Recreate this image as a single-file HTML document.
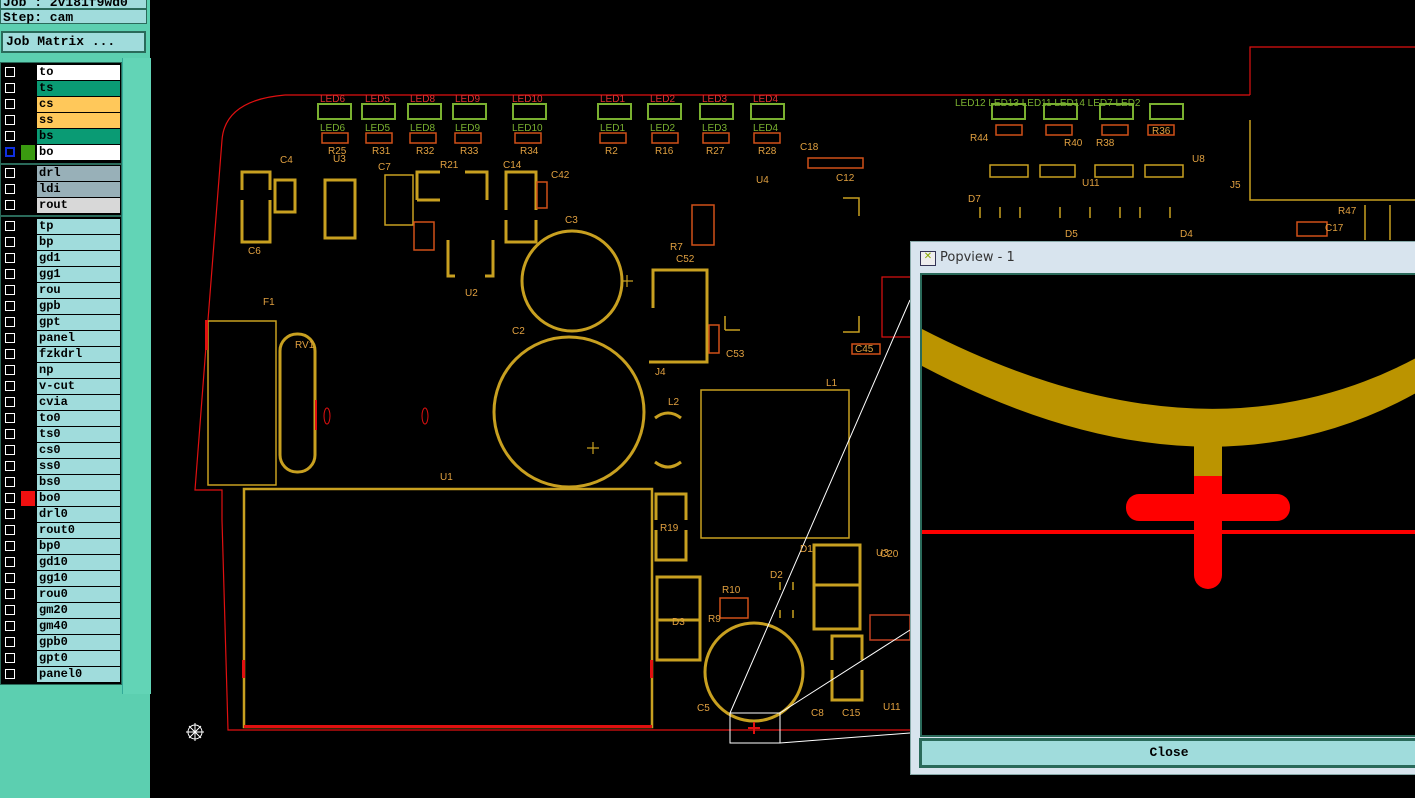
<!DOCTYPE html>
<html><head><meta charset="utf-8"><style>
body{margin:0;width:1415px;height:798px;overflow:hidden;background:#000;font-family:"Liberation Mono",monospace;position:relative}
#left{position:absolute;left:0;top:0;width:150px;height:798px;background:#5ccfb0}
.hdr{position:absolute;left:0;width:147px;height:15px;background:#a0dcdc;border:1px solid #2a6a5a;font:bold 13px "Liberation Mono",monospace;line-height:15px;padding-left:2px;box-sizing:border-box}
.btn{position:absolute;left:1px;top:31px;width:145px;height:22px;background:#a0dcdc;border:2px solid #2a6a5a;box-sizing:border-box;font:bold 13px "Liberation Mono",monospace;line-height:18px;padding-left:3px}
.grp{position:absolute;left:0;width:122px;background:#000;border:1px solid #2a6a5a;box-sizing:border-box}
.row{position:absolute;left:2px;height:15px;width:118px}
.cb{position:absolute;left:3px;top:2px;width:10px;height:10px;border:1px solid #fff;box-sizing:border-box;background:#000}
.nm{position:absolute;left:35px;top:0;width:83px;height:15px;font:bold 12px "Liberation Mono",monospace;line-height:15px;padding-left:2px;box-sizing:border-box;color:#000}
#pop{position:absolute;left:910px;top:241px;width:505px;height:532px;background:#d8e4ee;border:1px solid #8aa}
svg text{font-family:"Liberation Sans",sans-serif}
</style></head><body>
<svg width="1415" height="798" style="position:absolute;left:0;top:0">
<g fill="none" stroke="#e01010" stroke-width="1.2">
<path d="M285,95 L1250,95 M285,95 Q225,100 222,140 L208,320 L195,490 L222,490 L222,520 L228,730 L910,730"/>
<path d="M1250,95 L1250,47 L1415,47"/>
<rect x="882" y="277" width="30" height="60"/>
</g>
<g fill="none" stroke="#c8a020" stroke-width="3">
<rect x="244" y="489" width="408" height="238" stroke-width="2.5"/>
<circle cx="572" cy="281" r="50"/>
<circle cx="569" cy="412" r="75"/>
<circle cx="754" cy="672" r="49"/>
<rect x="280" y="334" width="35" height="138" rx="17"/>
<path d="M242,190 V172 H270 V190 M242,200 V242 H270 V200"/>
<rect x="275" y="180" width="20" height="32"/>
<rect x="325" y="180" width="30" height="58"/>
<path d="M417,200 V172 H440 M465,172 H487 V200 M417,200 H440"/>
<path d="M506,210 V172 H536 V210 M506,220 V242 H536 V220"/>
<path d="M448,240 V276 H455 M485,276 H493 V240"/>
<rect x="657" y="577" width="43" height="43"/>
<rect x="657" y="620" width="43" height="40"/>
<rect x="814" y="545" width="46" height="40"/>
<rect x="814" y="585" width="46" height="44"/>
<path d="M656,520 V494 H686 V520 M656,530 V560 H686 V530"/>
<path d="M832,660 V636 H862 V660 M832,670 V700 H862 V670"/>
<path d="M653,308 V270 H707 V362 H649"/>
</g>
<g fill="none" stroke="#c8a020" stroke-width="1.5">
<rect x="208" y="321" width="68" height="164"/>
<rect x="385" y="175" width="28" height="50"/>
<rect x="701" y="390" width="148" height="148"/>
<path d="M843,198 H859 V216 M843,332 H859 V316 M725,330 V316 M725,330 H740"/>
<path d="M980,207 V218 M1000,207 V218 M1020,207 V218 M1060,207 V218 M1090,207 V218 M1120,207 V218 M1140,207 V218 M1170,207 V218"/>
<path d="M1250,120 V200 H1415 M1365,205 V240 M1390,205 V240"/>
<rect x="990" y="165" width="38" height="12"/>
<rect x="1040" y="165" width="35" height="12"/>
<rect x="1095" y="165" width="38" height="12"/>
<rect x="1145" y="165" width="38" height="12"/>
<path d="M780,590 V582 M780,610 V618 M793,590 V582 M793,610 V618"/>
<path d="M870,615 H910 V640 H870 Z" stroke="#c04020"/>
</g>
<g fill="none" stroke="#7ab030" stroke-width="2">
<rect x="318" y="104" width="33" height="15"/><rect x="362" y="104" width="33" height="15"/><rect x="408" y="104" width="33" height="15"/><rect x="453" y="104" width="33" height="15"/><rect x="513" y="104" width="33" height="15"/><rect x="598" y="104" width="33" height="15"/><rect x="648" y="104" width="33" height="15"/><rect x="700" y="104" width="33" height="15"/><rect x="751" y="104" width="33" height="15"/>
<rect x="992" y="104" width="33" height="15"/><rect x="1044" y="104" width="33" height="15"/><rect x="1100" y="104" width="33" height="15"/><rect x="1150" y="104" width="33" height="15"/>
</g>
<g fill="none" stroke="#d05018" stroke-width="1.5">
<rect x="322" y="133" width="26" height="10"/><rect x="366" y="133" width="26" height="10"/><rect x="410" y="133" width="26" height="10"/><rect x="455" y="133" width="26" height="10"/><rect x="515" y="133" width="26" height="10"/><rect x="600" y="133" width="26" height="10"/><rect x="652" y="133" width="26" height="10"/><rect x="703" y="133" width="26" height="10"/><rect x="754" y="133" width="26" height="10"/>
<rect x="996" y="125" width="26" height="10"/><rect x="1046" y="125" width="26" height="10"/><rect x="1102" y="125" width="26" height="10"/><rect x="1148" y="125" width="26" height="10"/>
<rect x="414" y="222" width="20" height="28"/><rect x="537" y="182" width="10" height="26"/><rect x="692" y="205" width="22" height="40"/><rect x="709" y="325" width="10" height="28"/><rect x="720" y="598" width="28" height="20"/><rect x="1297" y="222" width="30" height="14"/><rect x="808" y="158" width="55" height="10"/><rect x="852" y="344" width="28" height="10"/>
</g>
<g fill="#e01010"><rect x="315" y="400" width="2" height="30"/><rect x="242" y="660" width="3" height="18"/><rect x="650" y="660" width="3" height="18"/><rect x="244" y="725" width="408" height="3"/><rect x="205" y="320" width="3" height="30"/></g>
<ellipse cx="327" cy="416" rx="3" ry="8" fill="none" stroke="#e01010"/>
<ellipse cx="425" cy="416" rx="3" ry="8" fill="none" stroke="#e01010"/>
<g stroke="#c8a020" stroke-width="1.2"><path d="M621,281 H633 M627,275 V287 M587,448 H599 M593,442 V454"/></g>
<path d="M655,418 Q668,408 681,418 M655,462 Q668,472 681,462" stroke="#c8a020" stroke-width="3" fill="none"/>
<g stroke="#fff" stroke-width="1" fill="none">
<path d="M730,713 L910,300 M780,713 L910,630"/>
<rect x="730" y="713" width="50" height="30"/>
<path d="M780,743 L910,733"/>
<path d="M748,728 H760 M754,722 V734" stroke="#e01010" stroke-width="2"/>
</g>
<g stroke="#fff" fill="none" transform="translate(195,732)"><circle r="7"/><path d="M-9,0 H9 M0,-9 V9 M-6,-6 L6,6 M-6,6 L6,-6"/></g>
<g font-size="10" fill="#e0a040">
<text x="320" y="102" fill="#e03030">LED6</text><text x="365" y="102" fill="#e03030">LED5</text><text x="410" y="102" fill="#e03030">LED8</text><text x="455" y="102" fill="#e03030">LED9</text><text x="512" y="102" fill="#e03030">LED10</text><text x="600" y="102" fill="#e03030">LED1</text><text x="650" y="102" fill="#e03030">LED2</text><text x="702" y="102" fill="#e03030">LED3</text><text x="753" y="102" fill="#e03030">LED4</text>
<text x="320" y="131" fill="#7ab030">LED6</text><text x="365" y="131" fill="#7ab030">LED5</text><text x="410" y="131" fill="#7ab030">LED8</text><text x="455" y="131" fill="#7ab030">LED9</text><text x="512" y="131" fill="#7ab030">LED10</text><text x="600" y="131" fill="#7ab030">LED1</text><text x="650" y="131" fill="#7ab030">LED2</text><text x="702" y="131" fill="#7ab030">LED3</text><text x="753" y="131" fill="#7ab030">LED4</text>
<text x="955" y="106" fill="#7ab030">LED12 LED13 LED11 LED14 LED7 LED2</text>
<text x="328" y="154">R25</text><text x="372" y="154">R31</text><text x="416" y="154">R32</text><text x="460" y="154">R33</text><text x="520" y="154">R34</text><text x="605" y="154">R2</text><text x="655" y="154">R16</text><text x="706" y="154">R27</text><text x="758" y="154">R28</text>
<text x="280" y="163">C4</text><text x="333" y="162">U3</text><text x="378" y="170">C7</text><text x="440" y="168">R21</text><text x="503" y="168">C14</text><text x="551" y="178">C42</text><text x="565" y="223">C3</text><text x="248" y="254">C6</text><text x="465" y="296">U2</text><text x="295" y="348">RV1</text><text x="263" y="305">F1</text><text x="512" y="334">C2</text><text x="440" y="480">U1</text><text x="676" y="262">C52</text><text x="655" y="375">J4</text><text x="726" y="357">C53</text><text x="668" y="405" fill="#e0a040">L2</text><text x="826" y="386">L1</text><text x="660" y="531">R19</text><text x="672" y="625">D3</text><text x="722" y="593">R10</text><text x="708" y="622">R9</text><text x="770" y="578">D2</text><text x="697" y="711">C5</text><text x="811" y="716">C8</text><text x="842" y="716">C15</text><text x="876" y="556">U3</text><text x="880" y="557">C20</text><text x="883" y="710">U11</text><text x="800" y="552">D1</text><text x="800" y="150">C18</text><text x="836" y="181">C12</text><text x="756" y="183">U4</text><text x="670" y="250">R7</text><text x="970" y="141">R44</text><text x="1064" y="146">R40</text><text x="1096" y="146">R38</text><text x="1152" y="134">R36</text><text x="1192" y="162">U8</text><text x="1230" y="188">J5</text><text x="1082" y="186">U11</text><text x="968" y="202">D7</text><text x="1065" y="237">D5</text><text x="1180" y="237">D4</text><text x="1338" y="214">R47</text><text x="1325" y="231">C17</text><text x="855" y="352">C45</text>
</g>
</svg>
<div id="left">
<div class="hdr" style="top:-4px;height:13px;line-height:11px">Job : 2v181f9wd0</div>
<div class="hdr" style="top:9px">Step: cam</div>
<div class="btn">Job Matrix ...</div>
<div class="grp" style="top:62px;height:102px"></div>
<div class="grp" style="top:164px;height:52px"></div>
<div class="grp" style="top:216px;height:469px"></div>
<div style="position:absolute;left:122px;top:58px;width:28px;height:636px;background:#62d4b6;border-left:1px solid #3a9"></div>
<div id="rows"></div>
</div>
<div id="pop">
<div style="position:absolute;left:9px;top:9px;width:14px;height:13px;border:1px solid #335;background:#eee;font-size:10px;line-height:12px;text-align:center;color:#8a0">✕</div>
<div style="position:absolute;left:29px;top:8px;font:13px 'DejaVu Sans',sans-serif;color:#333">Popview - 1</div>
<div style="position:absolute;left:9px;top:31px;width:496px;height:464px;background:#000;border:2px solid #2a6a5a;border-right:none;box-sizing:border-box;overflow:hidden">
<svg width="496" height="464" style="position:absolute;left:-2px;top:-2px">
<path d="M0,55 Q280,200 496,85 L496,120 Q280,240 0,92 Z" fill="#bb9400"/>
<rect x="274" y="165" width="28" height="42" fill="#bb9400"/>
<rect x="0" y="257" width="496" height="4" fill="#f00"/>
<rect x="274" y="203" width="28" height="113" rx="14" fill="#f00"/>
<rect x="274" y="203" width="28" height="20" fill="#f00"/>
<rect x="206" y="221" width="164" height="27" rx="13" fill="#f00"/>
</svg></div>
<div style="position:absolute;left:8px;top:496px;width:497px;height:30px;background:#2a6a5a"></div>
<div style="position:absolute;left:11px;top:499px;width:494px;height:24px;background:#a0dcdc;text-align:center;font:bold 13px 'Liberation Mono',monospace;line-height:24px">Close</div>
</div>
<script>
var L=[["to","#fff",65],["ts","#0a9b74",81],["cs","#ffc85a",97],["ss","#ffc85a",113],["bs","#0a9b74",129],["bo","#fff",145],["drl","#98b0b8",166],["ldi","#98b0b8",182],["rout","#d8d8d8",198]];
var g3="tp bp gd1 gg1 rou gpb gpt panel fzkdrl np v-cut cvia to0 ts0 cs0 ss0 bs0 bo0 drl0 rout0 bp0 gd10 gg10 rou0 gm20 gm40 gpb0 gpt0 panel0".split(" ");
g3.forEach(function(n,i){L.push([n,"#a0dcdc",219+i*16])});
var h="";L.forEach(function(r){var ex="";if(r[0]=="bo")ex='<div style="position:absolute;left:19px;top:0;width:14px;height:15px;background:#3a9a10"></div>';if(r[0]=="bo0")ex='<div style="position:absolute;left:19px;top:0;width:14px;height:15px;background:#f01010"></div>';
h+='<div class="row" style="top:'+r[2]+'px"><div class="cb"'+(r[0]=="bo"?' style="border:2px solid #1030e0"':'')+'></div>'+ex+'<div class="nm" style="background:'+r[1]+'">'+r[0]+'</div></div>'});
document.getElementById("rows").innerHTML=h;
</script>
</body></html>
